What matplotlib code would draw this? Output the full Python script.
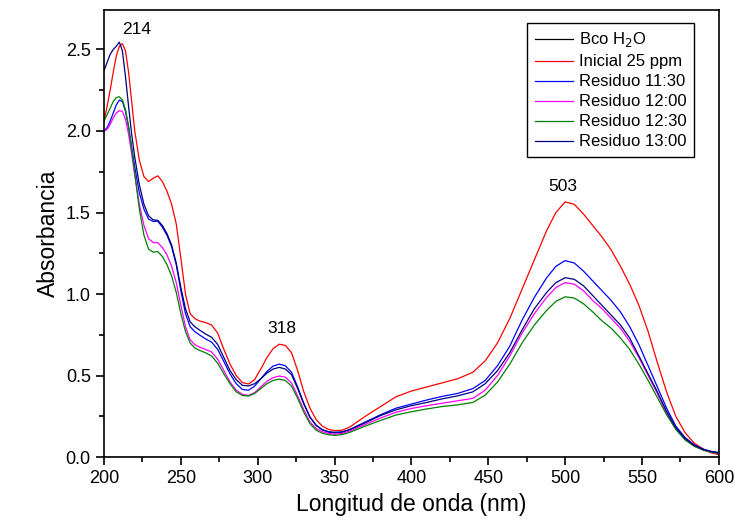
import matplotlib
matplotlib.use('Agg')
import matplotlib.pyplot as plt
from matplotlib.ticker import MultipleLocator, FormatStrFormatter

plt.rcParams['font.family'] = ['Liberation Sans', 'DejaVu Sans']

# Wavelength grid (nm)
wl = [200, 202, 204, 206, 208, 210, 212, 214, 216, 218, 220, 223, 226, 229, 232,
      235, 238, 241, 244, 247, 250, 253, 256, 259, 262, 266, 270, 274, 278, 282,
      286, 290, 294, 298, 302, 306, 310, 314, 318, 322, 326, 330, 334, 338, 342,
      346, 350, 355, 360, 370, 380, 390, 400, 410, 420, 430, 440, 448, 456, 464,
      472, 480, 488, 494, 500, 506, 512, 518, 524, 530, 536, 542, 548, 554, 560,
      566, 572, 578, 584, 590, 595, 600]

# Blank (water) - sits on the baseline
blank_wl = [200, 600]
blank = [0.0, 0.0]

inicial = [2.06, 2.15, 2.25, 2.36, 2.46, 2.52, 2.535, 2.49, 2.36, 2.18, 2.00, 1.82, 1.72, 1.69, 1.71,
           1.725, 1.69, 1.63, 1.55, 1.43, 1.22, 1.00, 0.88, 0.85, 0.835, 0.825, 0.81, 0.76, 0.66, 0.57,
           0.50, 0.457, 0.448, 0.475, 0.54, 0.61, 0.665, 0.692, 0.685, 0.64, 0.53, 0.40, 0.30, 0.23, 0.19,
           0.17, 0.162, 0.165, 0.185, 0.25, 0.31, 0.37, 0.405, 0.43, 0.455, 0.48, 0.52, 0.59, 0.70, 0.85,
           1.03, 1.21, 1.39, 1.50, 1.565, 1.55, 1.49, 1.42, 1.35, 1.27, 1.17, 1.06, 0.93, 0.77, 0.58,
           0.40, 0.25, 0.15, 0.085, 0.048, 0.026, 0.015]

res_1130 = [2.00, 2.02, 2.06, 2.11, 2.16, 2.19, 2.18, 2.12, 2.02, 1.90, 1.78, 1.62, 1.52, 1.46, 1.445,
            1.447, 1.41, 1.36, 1.29, 1.18, 1.02, 0.88, 0.80, 0.77, 0.75, 0.725, 0.705, 0.66, 0.585, 0.51,
            0.45, 0.415, 0.41, 0.435, 0.48, 0.525, 0.558, 0.57, 0.56, 0.52, 0.43, 0.33, 0.245, 0.195, 0.167,
            0.153, 0.148, 0.152, 0.17, 0.215, 0.26, 0.30, 0.325, 0.35, 0.372, 0.39, 0.42, 0.47, 0.56, 0.68,
            0.84, 0.98, 1.10, 1.17, 1.205, 1.19, 1.14, 1.08, 1.02, 0.96, 0.89, 0.80, 0.69, 0.56, 0.43,
            0.30, 0.19, 0.12, 0.075, 0.048, 0.035, 0.028]

res_1200 = [2.00, 2.01, 2.04, 2.08, 2.11, 2.125, 2.12, 2.07, 1.98, 1.86, 1.73, 1.55, 1.42, 1.34, 1.315,
            1.315, 1.285, 1.24, 1.17, 1.07, 0.93, 0.80, 0.72, 0.69, 0.675, 0.66, 0.645, 0.60, 0.53, 0.46,
            0.41, 0.385, 0.378, 0.395, 0.43, 0.465, 0.487, 0.497, 0.49, 0.455, 0.375, 0.29, 0.215, 0.175, 0.155,
            0.145, 0.14, 0.145, 0.16, 0.20, 0.24, 0.275, 0.298, 0.315, 0.33, 0.345, 0.36, 0.41, 0.50, 0.62,
            0.76, 0.88, 0.98, 1.04, 1.07, 1.06, 1.02, 0.96, 0.91, 0.85, 0.79, 0.71, 0.61, 0.50, 0.39,
            0.27, 0.175, 0.11, 0.068, 0.042, 0.03, 0.022]

res_1230 = [2.06, 2.10, 2.14, 2.18, 2.205, 2.21, 2.19, 2.13, 2.03, 1.89, 1.74, 1.52, 1.36, 1.275, 1.257,
            1.26, 1.23, 1.18, 1.11, 1.01, 0.88, 0.77, 0.70, 0.67, 0.655, 0.64, 0.62, 0.575, 0.51, 0.45,
            0.40, 0.378, 0.374, 0.39, 0.42, 0.45, 0.47, 0.478, 0.47, 0.435, 0.36, 0.275, 0.205, 0.165, 0.146,
            0.137, 0.133, 0.138, 0.152, 0.19, 0.225, 0.258, 0.278, 0.295, 0.31, 0.32, 0.335, 0.38, 0.46, 0.57,
            0.70, 0.81, 0.90, 0.955, 0.983, 0.975, 0.94, 0.89, 0.835, 0.79, 0.73, 0.66, 0.57, 0.47, 0.365,
            0.26, 0.17, 0.105, 0.066, 0.042, 0.03, 0.023]

res_1300 = [2.37, 2.42, 2.47, 2.50, 2.52, 2.545, 2.49, 2.33, 2.15, 1.98, 1.84, 1.67, 1.55, 1.48, 1.455,
            1.452, 1.42, 1.37, 1.30, 1.19, 1.04, 0.91, 0.83, 0.80, 0.78, 0.755, 0.735, 0.69, 0.61, 0.53,
            0.475, 0.44, 0.436, 0.45, 0.48, 0.515, 0.54, 0.55, 0.54, 0.505, 0.42, 0.325, 0.245, 0.195, 0.168,
            0.156, 0.152, 0.155, 0.168, 0.21, 0.255, 0.29, 0.315, 0.335, 0.357, 0.375, 0.40, 0.45, 0.53, 0.64,
            0.78, 0.91, 1.01, 1.07, 1.10, 1.09, 1.05, 0.99, 0.93, 0.87, 0.81, 0.73, 0.62, 0.51, 0.40,
            0.28, 0.18, 0.115, 0.072, 0.047, 0.034, 0.026]

# Peak annotations: (label, wavelength, absorbance position of text)
peak_labels = ['214', '318', '503']
peak_x = [221.2, 315.6, 498.5]
peak_y = [2.62, 0.79, 1.66]

fig = plt.figure(figsize=(7.35, 5.29), dpi=100)
ax = fig.add_axes([0.1415, 0.136, 0.8365, 0.846])

ax.plot(blank_wl, blank, color='black', lw=0.9, label=r'Bco H$_2$O', zorder=1)
ax.plot(wl, inicial, color='#ff0000', lw=0.9, label='Inicial 25 ppm')
ax.plot(wl, res_1130, color='#0000ff', lw=0.9, label='Residuo 11:30')
ax.plot(wl, res_1200, color='#ff00ff', lw=0.9, label='Residuo 12:00')
ax.plot(wl, res_1230, color='#008000', lw=0.9, label='Residuo 12:30')
ax.plot(wl, res_1300, color='#000080', lw=0.9, label='Residuo 13:00')

for lab, px, py in zip(peak_labels, peak_x, peak_y):
    ax.text(px, py, lab, ha='center', va='center', fontsize=12.5)

ax.set_xlim(200, 600)
ax.set_ylim(0, 2.745)
ax.xaxis.set_major_locator(MultipleLocator(50))
ax.xaxis.set_minor_locator(MultipleLocator(25))
ax.yaxis.set_major_locator(MultipleLocator(0.5))
ax.yaxis.set_minor_locator(MultipleLocator(0.25))
ax.yaxis.set_major_formatter(FormatStrFormatter('%.1f'))

ax.tick_params(which='both', direction='out', top=False, right=False, width=1.2)
ax.tick_params(which='major', length=6, labelsize=13)
ax.tick_params(which='minor', length=3.5)
for sp in ax.spines.values():
    sp.set_linewidth(1.2)

ax.set_xlabel('Longitud de onda (nm)', fontsize=16.5)
ax.set_ylabel('Absorbancia', fontsize=16.5)

leg = ax.legend(loc='upper right', bbox_to_anchor=(0.96, 0.97), borderaxespad=0,
                fontsize=12, fancybox=False, edgecolor='black', framealpha=1,
                handlelength=2.3, handletextpad=0.35, labelspacing=0.3, borderpad=0.45)
leg.get_frame().set_linewidth(1.0)

fig.savefig('out.png', dpi=100)
